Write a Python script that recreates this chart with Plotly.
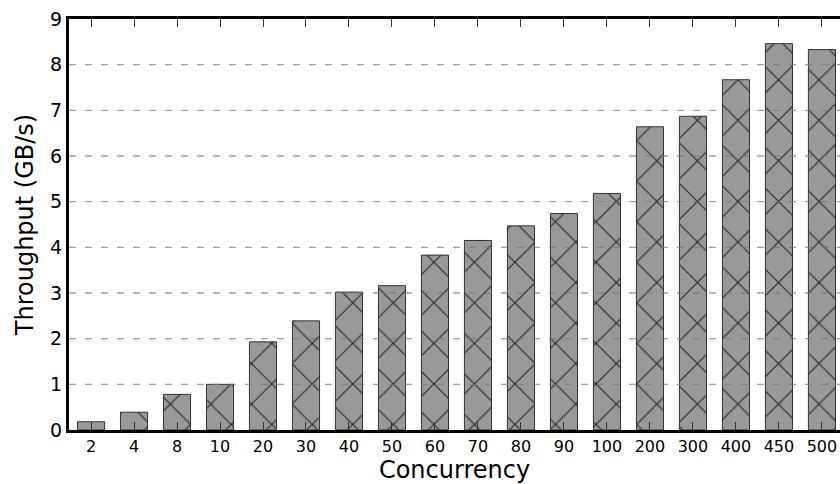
import plotly.graph_objects as go

categories = ["2", "4", "8", "10", "20", "30", "40", "50", "60", "70",
              "80", "90", "100", "200", "300", "400", "450", "500"]
throughput = [0.18, 0.39, 0.78, 1.00, 1.93, 2.39, 3.02, 3.16, 3.83, 4.15,
              4.47, 4.74, 5.18, 6.64, 6.87, 7.67, 8.46, 8.33]
y_ticks = [0, 1, 2, 3, 4, 5, 6, 7, 8, 9]
grid_levels = [1, 2, 3, 4, 5, 6, 7, 8]

FONT = "DejaVu Sans"

fig = go.Figure()
fig.add_trace(go.Bar(
    x=list(range(len(categories))),
    y=throughput,
    width=0.63,
    marker=dict(
        color="#999999",
        line=dict(color="#333333", width=1),
        pattern=dict(shape="x", size=28.667, solidity=0.08,
                     fgcolor="#2a2a2a", bgcolor="#999999", fillmode="replace"),
    ),
    hoverinfo="skip",
))

for g in grid_levels:
    fig.add_shape(type="line", xref="paper", x0=0, x1=1, yref="y", y0=g, y1=g,
                  line=dict(color="rgba(120,120,120,0.7)", width=1.3, dash="7px,9px"),
                  layer="above")

fig.update_layout(
    width=840, height=484,
    margin=dict(l=69, r=0, t=19, b=54),
    plot_bgcolor="white", paper_bgcolor="white",
    showlegend=False,
    font=dict(family=FONT, color="black"),
)
fig.update_xaxes(
    range=[-0.512, 17.42],
    tickmode="array", tickvals=list(range(len(categories))), ticktext=categories,
    ticks="inside", ticklen=8, tickwidth=1, tickcolor="#333333",
    showline=True, linewidth=3, linecolor="black", mirror="ticks",
    showgrid=False, zeroline=False,
    tickfont=dict(size=16, family=FONT, color="black"),
    title=dict(text="Concurrency", font=dict(size=24, family=FONT, color="black"), standoff=10),
)
fig.update_yaxes(
    range=[0, 9],
    tickmode="array", tickvals=y_ticks,
    ticks="", showline=True, linewidth=3, linecolor="black",
    showgrid=False, zeroline=False,
    tickfont=dict(size=19, family=FONT, color="black"),
    title=dict(text="Throughput (GB/s)", font=dict(size=24, family=FONT, color="black"), standoff=10),
)

fig.write_html("out.html")
